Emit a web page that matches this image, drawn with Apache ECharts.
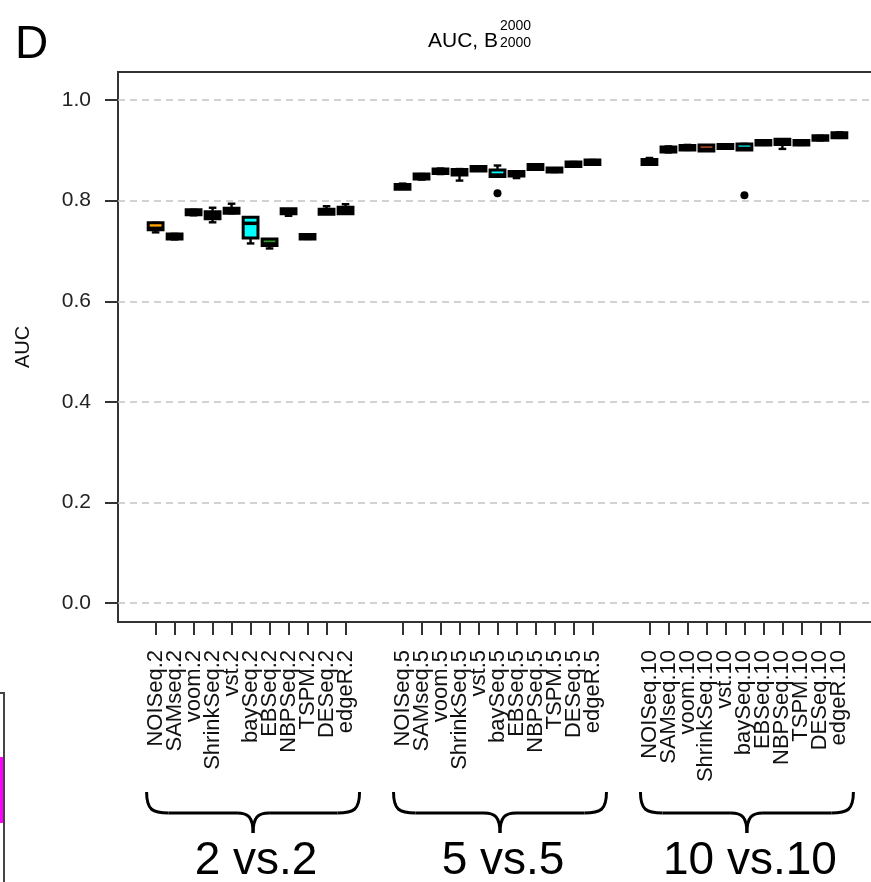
<!DOCTYPE html>
<html>
<head>
<meta charset="utf-8">
<script src="https://cdn.jsdelivr.net/npm/echarts@6/dist/echarts.min.js"></script>
<style>
  html, body { margin: 0; padding: 0; background: #ffffff; }
  #chart { width: 871px; height: 882px; }
</style>
</head>
<body>
<div id="chart"></div>
<script>
// Methods compared in each sample-size setting
const methods = ['NOISeq', 'SAMseq', 'voom', 'ShrinkSeq', 'vst', 'baySeq', 'EBSeq', 'NBPSeq', 'TSPM', 'DESeq', 'edgeR'];
const groupLabels = ['2 vs.2', '5 vs.5', '10 vs.10'];
const groupSuffix = ['2', '5', '10'];

// AUC box statistics per method: [min, Q1, median, Q3, max]
const auc2 = [
  [0.737, 0.744, 0.745, 0.754, 0.756],
  [0.723, 0.726, 0.729, 0.732, 0.734],
  [0.771, 0.774, 0.777, 0.780, 0.782],
  [0.757, 0.766, 0.771, 0.776, 0.786],
  [0.775, 0.777, 0.780, 0.783, 0.794],
  [0.715, 0.728, 0.755, 0.765, 0.765],
  [0.705, 0.713, 0.714, 0.722, 0.723],
  [0.770, 0.776, 0.779, 0.782, 0.783],
  [0.724, 0.726, 0.728, 0.731, 0.733],
  [0.774, 0.775, 0.778, 0.781, 0.789],
  [0.774, 0.776, 0.780, 0.785, 0.793]
];
const auc5 = [
  [0.824, 0.825, 0.827, 0.830, 0.834],
  [0.842, 0.845, 0.848, 0.851, 0.853],
  [0.853, 0.856, 0.859, 0.861, 0.864],
  [0.840, 0.853, 0.857, 0.860, 0.863],
  [0.860, 0.861, 0.863, 0.866, 0.868],
  [0.849, 0.850, 0.851, 0.859, 0.870],
  [0.845, 0.851, 0.853, 0.856, 0.857],
  [0.862, 0.864, 0.867, 0.870, 0.872],
  [0.857, 0.859, 0.861, 0.863, 0.864],
  [0.868, 0.870, 0.873, 0.875, 0.877],
  [0.872, 0.874, 0.877, 0.879, 0.881]
];
const auc10 = [
  [0.872, 0.874, 0.877, 0.880, 0.885],
  [0.896, 0.899, 0.902, 0.905, 0.908],
  [0.901, 0.903, 0.906, 0.908, 0.911],
  [0.901, 0.901, 0.902, 0.909, 0.910],
  [0.904, 0.906, 0.908, 0.910, 0.912],
  [0.903, 0.903, 0.904, 0.911, 0.913],
  [0.911, 0.913, 0.916, 0.918, 0.920],
  [0.903, 0.914, 0.917, 0.920, 0.922],
  [0.911, 0.913, 0.915, 0.918, 0.920],
  [0.920, 0.922, 0.925, 0.927, 0.929],
  [0.925, 0.927, 0.930, 0.933, 0.936]
];

// Box fill colours
const fill2 = ['#FFA500', '#000', '#000', '#000', '#000', '#00FFFF', '#2E9A2E', '#000', '#000', '#000', '#000'];
const fill5 = ['#000', '#000', '#000', '#000', '#000', '#00FFFF', '#000', '#000', '#000', '#000', '#000'];
const fill10 = ['#000', '#000', '#000', '#E8602C', '#000', '#00FFFF', '#000', '#000', '#000', '#000', '#000'];

// Outlying runs: group index, method, AUC
const outlierGroup = [1, 2];
const outlierMethod = ['baySeq', 'baySeq'];
const outlierValue = [0.815, 0.811];

const yTicks = [0, 0.2, 0.4, 0.6, 0.8, 1.0];

// ---- build series data --------------------------------------------------
const groupStats = [auc2, auc5, auc10];
const groupFills = [fill2, fill5, fill10];
const slotsPerGroup = methods.length + 2;   // two empty slots between groups
const slotOf = (g, i) => g * slotsPerGroup + i + 1;
const X_MIN = -0.98, X_MAX = 38.98;

const boxData = [];
const boxFill = [];
const tickPositions = [];
const labelAt = {};
groupStats.forEach((stats, g) => {
  stats.forEach((s, i) => {
    const pos = slotOf(g, i);
    boxData.push([pos].concat(s));
    boxFill.push(groupFills[g][i]);
    tickPositions.push(pos);
    labelAt[pos] = methods[i] + '.' + groupSuffix[g];
  });
});
// blank label slots at both axis ends keep every method label visible
const labelPositions = [X_MIN].concat(tickPositions, [X_MAX]);
const outlierData = outlierValue.map((v, k) => [slotOf(outlierGroup[k], methods.indexOf(outlierMethod[k])), v]);

function renderBox(params, api) {
  const x = api.value(0);
  const p = v => api.coord([x, v]);
  const pMin = p(api.value(1)), pQ1 = p(api.value(2)), pMed = p(api.value(3));
  const pQ3 = p(api.value(4)), pMax = p(api.value(5));
  const unit = api.size([1, 0])[0];
  const hw = unit * 0.39, sw = unit * 0.2;
  const cx = pMed[0];
  const ln = { stroke: '#000', lineWidth: 2.4 };
  return {
    type: 'group',
    children: [
      { type: 'line', shape: { x1: cx, y1: pMin[1], x2: cx, y2: pQ1[1] }, style: ln },
      { type: 'line', shape: { x1: cx, y1: pQ3[1], x2: cx, y2: pMax[1] }, style: ln },
      { type: 'line', shape: { x1: cx - sw, y1: pMin[1], x2: cx + sw, y2: pMin[1] }, style: ln },
      { type: 'line', shape: { x1: cx - sw, y1: pMax[1], x2: cx + sw, y2: pMax[1] }, style: ln },
      { type: 'rect', shape: { x: cx - hw, y: pQ3[1] - 1, width: 2 * hw, height: pQ1[1] - pQ3[1] + 2 },
        style: { fill: boxFill[params.dataIndex], stroke: '#000', lineWidth: 3 } },
      { type: 'line', shape: { x1: cx - hw, y1: pMed[1], x2: cx + hw, y2: pMed[1] },
        style: { stroke: '#000', lineWidth: 3.5 } }
    ]
  };
}

const FONT = 'Liberation Sans, Arial, Helvetica, sans-serif';
const chart = echarts.init(document.getElementById('chart'), null, { renderer: 'canvas' });

chart.setOption({
  animation: false,
  backgroundColor: '#ffffff',
  grid: {
    left: 118, top: 72, width: 759, bottom: 260,
    outerBoundsMode: 'none', containLabel: false,
    show: true, borderColor: '#333', borderWidth: 2, backgroundColor: 'transparent'
  },
  xAxis: {
    type: 'value', min: X_MIN, max: X_MAX,
    axisLine: { show: false, onZero: false }, splitLine: { show: false },
    axisTick: { customValues: tickPositions, length: 13, lineStyle: { color: '#333', width: 2 } },
    axisLabel: {
      customValues: labelPositions, rotate: 90, margin: 28,
      showMinLabel: true, showMaxLabel: true, hideOverlap: false,
      formatter: v => labelAt[Math.round(v * 100) / 100] || '',
      fontSize: 22, lineHeight: 16, fontFamily: FONT, color: '#111'
    }
  },
  yAxis: {
    type: 'value', min: -0.038, max: 1.056,
    axisLine: { show: false, onZero: false }, splitLine: { show: false },
    axisTick: { customValues: yTicks, length: 13, lineStyle: { color: '#333', width: 2 } },
    axisLabel: {
      customValues: yTicks, margin: 27,
      formatter: v => v.toFixed(1),
      fontSize: 21, fontFamily: FONT, color: '#222'
    },
    name: 'AUC', nameLocation: 'middle', nameGap: 85, nameMoveOverlap: false,
    nameTextStyle: { fontSize: 20, fontFamily: FONT, color: '#111' }
  },
  series: [
    {
      type: 'scatter', z: 2,
      data: outlierData,
      symbol: 'circle', symbolSize: 8,
      itemStyle: { color: '#000', opacity: 1 },
      markLine: {
        silent: true, symbol: ['none', 'none'],
        label: { show: false },
        lineStyle: { type: [7, 5], color: '#c4c4c4', width: 1.5 },
        data: yTicks.map(v => ({ yAxis: v }))
      }
    },
    {
      type: 'custom', z: 3,
      renderItem: renderBox,
      encode: { x: 0, y: [1, 2, 3, 4, 5] },
      data: boxData
    }
  ]
});

// Panel letter, title, group braces and labels
const gfx = [];
const txt = (x, y, text, size, align) => ({
  type: 'text', x: x, y: y,
  style: { text: text, font: size + 'px ' + FONT, fill: '#000', textAlign: align || 'left', textVerticalAlign: 'middle' }
});
gfx.push(txt(15, 45, 'D', 46));
gfx.push(txt(428, 41, 'AUC, B', 21));
gfx.push(txt(500, 26, '2000', 14));
gfx.push(txt(500, 43, '2000', 14));

const braceStyle = { fill: null, stroke: '#000', lineWidth: 3 };
groupLabels.forEach((label, g) => {
  const a = chart.convertToPixel({ xAxisIndex: 0 }, slotOf(g, 0)) - 9;
  const b = chart.convertToPixel({ xAxisIndex: 0 }, slotOf(g, methods.length - 1)) + 14;
  const c = (a + b) / 2;
  const T = 792, M = 813, B = 833;
  gfx.push({ type: 'bezierCurve', shape: { x1: a, y1: T, cpx1: a, cpy1: M - 3, cpx2: a + 6, cpy2: M, x2: a + 22, y2: M }, style: braceStyle });
  gfx.push({ type: 'line', shape: { x1: a + 22, y1: M, x2: c - 16, y2: M }, style: braceStyle });
  gfx.push({ type: 'bezierCurve', shape: { x1: c - 16, y1: M, cpx1: c - 5, cpy1: M, cpx2: c, cpy2: M + 4, x2: c, y2: B }, style: braceStyle });
  gfx.push({ type: 'bezierCurve', shape: { x1: c + 16, y1: M, cpx1: c + 5, cpy1: M, cpx2: c, cpy2: M + 4, x2: c, y2: B }, style: braceStyle });
  gfx.push({ type: 'line', shape: { x1: c + 16, y1: M, x2: b - 22, y2: M }, style: braceStyle });
  gfx.push({ type: 'bezierCurve', shape: { x1: b, y1: T, cpx1: b, cpy1: M - 3, cpx2: b - 6, cpy2: M, x2: b - 22, y2: M }, style: braceStyle });
  gfx.push(txt(c + 3, 861, label, 46, 'center'));
});

// Neighbouring legend box at the lower left edge
gfx.push({ type: 'rect', shape: { x: -10, y: 693, width: 14, height: 220 }, style: { fill: '#fff', stroke: '#444', lineWidth: 2 } });
gfx.push({ type: 'rect', shape: { x: 0, y: 757, width: 3, height: 66 }, style: { fill: '#FF00FF' } });

chart.setOption({ graphic: { elements: gfx } });
</script>
</body>
</html>
